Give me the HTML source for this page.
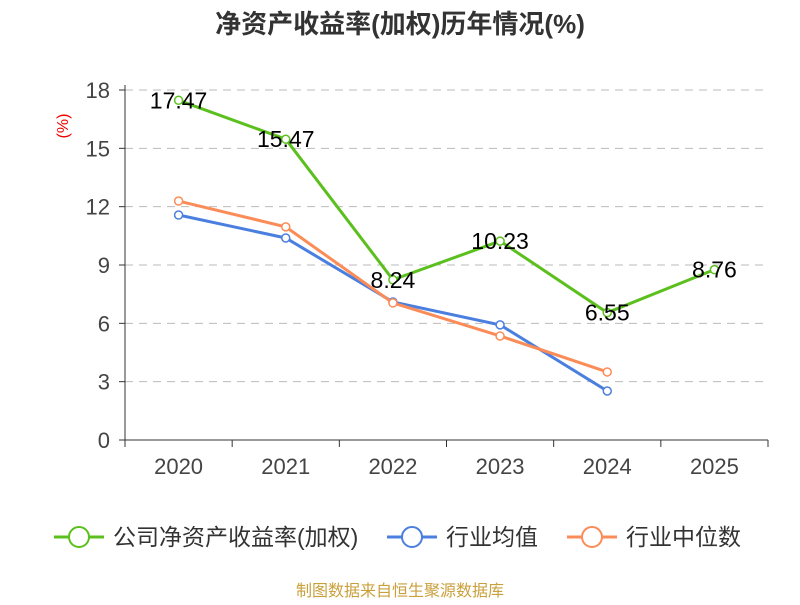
<!DOCTYPE html>
<html><head><meta charset="utf-8"><style>
body{margin:0;background:#fff;font-family:"Liberation Sans","Noto Sans CJK SC",sans-serif;}
svg text{font-family:"Liberation Sans","Noto Sans CJK SC",sans-serif;}
</style></head><body>
<svg id="c" width="800" height="600" xmlns="http://www.w3.org/2000/svg">
<text x="400" y="33" text-anchor="middle" font-size="26" font-weight="bold" fill="#333">净资产收益率(加权)历年情况(%)</text>
<text x="68" y="126" text-anchor="middle" font-size="16" fill="#e00" transform="rotate(-90 68 126)">(%)</text>
<g id="grid"></g><g id="axes"></g><g id="series"></g>
<g>
<g><line x1="54" y1="537" x2="104" y2="537" stroke="#5bc01e" stroke-width="3"/><circle cx="79" cy="537" r="10" fill="#fff" stroke="#5bc01e" stroke-width="2"/><text x="113" y="545" font-size="23" fill="#333">公司净资产收益率(加权)</text></g>
<g><line x1="387" y1="537" x2="437" y2="537" stroke="#4a7fe0" stroke-width="3"/><circle cx="412" cy="537" r="10" fill="#fff" stroke="#4a7fe0" stroke-width="2"/><text x="446" y="545" font-size="23" fill="#333">行业均值</text></g>
<g><line x1="567" y1="537" x2="617" y2="537" stroke="#fb8c58" stroke-width="3"/><circle cx="592" cy="537" r="10" fill="#fff" stroke="#fb8c58" stroke-width="2"/><text x="626" y="545" font-size="23" fill="#333">行业中位数</text></g>
</g>
<text x="400" y="596" text-anchor="middle" font-size="16" fill="#c9a03c">制图数据来自恒生聚源数据库</text>
</svg>
<script>
const categories=["2020","2021","2022","2023","2024","2025"];
const companyVals=[17.47,15.47,8.24,10.23,6.55,8.76];
const avgVals=[11.57,10.39,7.1,5.92,2.52];
const medianVals=[12.29,10.96,7.05,5.35,3.5];
const yTicks=[0,3,6,9,12,15,18];
const NS="http://www.w3.org/2000/svg";
const x0=125,x1=768,y0=440,y1=90,yMax=18;
const bw=(x1-x0)/categories.length;
const xs=i=>x0+bw*(i+0.5);
const ys=v=>y0-(v/yMax)*(y0-y1);
function mk(p,t,a){const e=document.createElementNS(NS,t);for(const k in a)e.setAttribute(k,a[k]);document.getElementById(p).appendChild(e);return e;}
yTicks.forEach(v=>{
 const y=ys(v);
 if(v>0){const g=mk("grid","line",{x1:x0,x2:x1,y1:y,y2:y,stroke:"#bbb","stroke-dasharray":"8,6"});
 
 }
 const t=mk("axes","line",{x1:x0-6,x2:x0,y1:y,y2:y,stroke:"#333"});
 
 
 const l=mk("axes","text",{x:x0-15,y:y+8,"text-anchor":"end","font-size":"22",fill:"#444"});l.textContent=v;
 
 
});
const ya=mk("axes","line",{x1:x0,x2:x0,y1:y1-5,y2:y0,stroke:"#333"});


const xa=mk("axes","line",{x1:x0,x2:x1,y1:y0,y2:y0,stroke:"#333"});


for(let i=0;i<=categories.length;i++){const t=mk("axes","line",{x1:x0+bw*i,x2:x0+bw*i,y1:y0,y2:y0+7,stroke:"#333"});
 
 }
categories.forEach((c,i)=>{const l=mk("axes","text",{x:xs(i),y:y0+34,"text-anchor":"middle","font-size":"22",fill:"#444"});l.textContent=c;
 
 });
function series(vals,color,name,labels){
 const pl=mk("series","polyline",{points:vals.map((v,i)=>xs(i)+","+ys(v)).join(" "),fill:"none",stroke:color,"stroke-width":"3"});
 
 
 vals.forEach((v,i)=>{const c=mk("series","circle",{cx:xs(i),cy:ys(v),r:4,fill:"#fff",stroke:color,"stroke-width":"1.5"});
  
  });
 if(labels)vals.forEach((v,i)=>{const t=mk("series","text",{x:xs(i),y:ys(v)+8,"text-anchor":"middle","font-size":"23",fill:"#000"});t.textContent=v.toFixed(2);
  
  });
}
series(avgVals,"#4a7fe0","industry-avg",false);
series(medianVals,"#fb8c58","industry-median",false);
series(companyVals,"#5bc01e","company",true);
</script>
</body></html>
